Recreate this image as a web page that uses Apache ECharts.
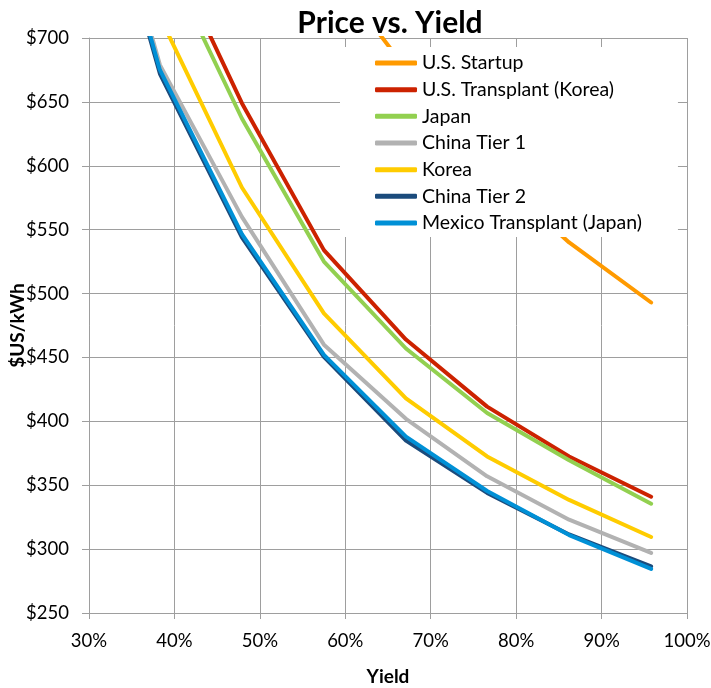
<!DOCTYPE html>
<html>
<head>
<meta charset="utf-8">
<script src="https://cdn.jsdelivr.net/npm/echarts@6/dist/echarts.min.js"></script>
<style>
  html, body { margin: 0; padding: 0; background: #fff; }
  #chart { width: 711px; height: 688px; }
</style>
</head>
<body>
<div id="chart"></div>
<script>
// Yield (%) at which each price was computed
const yields = [28.7, 38.3, 47.9, 57.5, 67.1, 76.6, 86.2, 95.8];

// Price in $US/kWh per production scenario (null = not computed)
const usStartup         = [null, null, null, 760, 676, 598, 540, 493];
const usTransplantKorea = [null, 785, 649, 534, 464, 411.5, 372.5, 341];
const japan             = [null, 771, 637, 525, 457, 406.5, 369.5, 335.5];
const chinaTier1        = [905, 679, 560, 460, 402, 357, 323, 297];
const korea             = [null, 716.5, 583, 484.5, 418, 372.5, 338.5, 309.5];
const chinaTier2        = [900, 672, 544, 450.5, 385, 344, 311.5, 286.5];
const mexicoTransplant  = [903, 675, 546.5, 452, 388, 345.5, 311, 284.5];

const seriesNames = [
  'U.S. Startup',
  'U.S. Transplant (Korea)',
  'Japan',
  'China Tier 1',
  'Korea',
  'China Tier 2',
  'Mexico Transplant (Japan)'
];
const seriesValues = [usStartup, usTransplantKorea, japan, chinaTier1, korea, chinaTier2, mexicoTransplant];
const seriesColors = ['#FF9A00', '#CC2200', '#92D050', '#B2B2B2', '#FFCC00', '#1B4B7C', '#0090D6'];

// Axis tick settings
const xMin = 30, xMax = 100, xStep = 10;
const yMin = 250, yMax = 700, yStep = 50;

const FONT = 'Lato, "Open Sans", sans-serif';
const gridColor = '#9E9E9E';

const chart = echarts.init(document.getElementById('chart'), null, { renderer: 'canvas' });

chart.setOption({
  animation: false,
  backgroundColor: '#ffffff',
  title: {
    text: 'Price vs. Yield',
    left: 390,
    top: 8,
    padding: 0,
    textAlign: 'center',
    textStyle: { fontFamily: FONT, fontSize: 30, fontWeight: 'bold', color: '#000', lineHeight: 30 }
  },
  legend: {
    orient: 'vertical',
    left: 340,
    top: 47,
    padding: [6, 36, 4, 35],
    backgroundColor: '#ffffff',
    itemGap: 6.67,
    itemWidth: 42,
    itemHeight: 5,
    icon: 'roundRect',
    textStyle: { fontFamily: FONT, fontSize: 19.5, color: '#000', lineHeight: 20 },
    data: seriesNames
  },
  grid: { left: 89, right: 24, top: 38, bottom: 75, containLabel: false, outerBoundsMode: 'none' },
  xAxis: {
    type: 'value',
    min: xMin,
    max: xMax,
    interval: xStep,
    name: 'Yield',
    nameLocation: 'middle',
    nameGap: 54,
    nameMoveOverlap: false,
    nameTextStyle: { fontFamily: FONT, fontSize: 19, fontWeight: 'bold', color: '#000', lineHeight: 20 },
    axisLine: { show: true, lineStyle: { color: gridColor, width: 1 } },
    axisTick: { show: true, length: 6, lineStyle: { color: gridColor } },
    axisLabel: {
      formatter: '{value}%',
      margin: 18,
      fontFamily: FONT, fontSize: 18.5, color: '#000', lineHeight: 20
    },
    splitLine: { show: true, lineStyle: { color: gridColor, width: 1 } }
  },
  yAxis: {
    type: 'value',
    min: yMin,
    max: yMax,
    interval: yStep,
    name: '$US/kWh',
    nameLocation: 'middle',
    nameGap: 61,
    nameRotate: 90,
    nameMoveOverlap: false,
    nameTextStyle: { fontFamily: FONT, fontSize: 19, fontWeight: 'bold', color: '#000', lineHeight: 20 },
    axisLine: { show: true, lineStyle: { color: gridColor, width: 1 } },
    axisTick: { show: true, length: 7, lineStyle: { color: gridColor } },
    axisLabel: {
      formatter: '${value}',
      margin: 20,
      fontFamily: FONT, fontSize: 18.5, color: '#000'
    },
    splitLine: { show: true, lineStyle: { color: gridColor, width: 1 } }
  },
  series: seriesNames.map((name, i) => ({
    name: name,
    type: 'line',
    symbol: 'none',
    clip: true,
    color: seriesColors[i],
    lineStyle: { width: 4, color: seriesColors[i], cap: 'round', join: 'round' },
    data: yields.map((x, j) => [x, seriesValues[i][j]])
  }))
});
</script>
</body>
</html>
